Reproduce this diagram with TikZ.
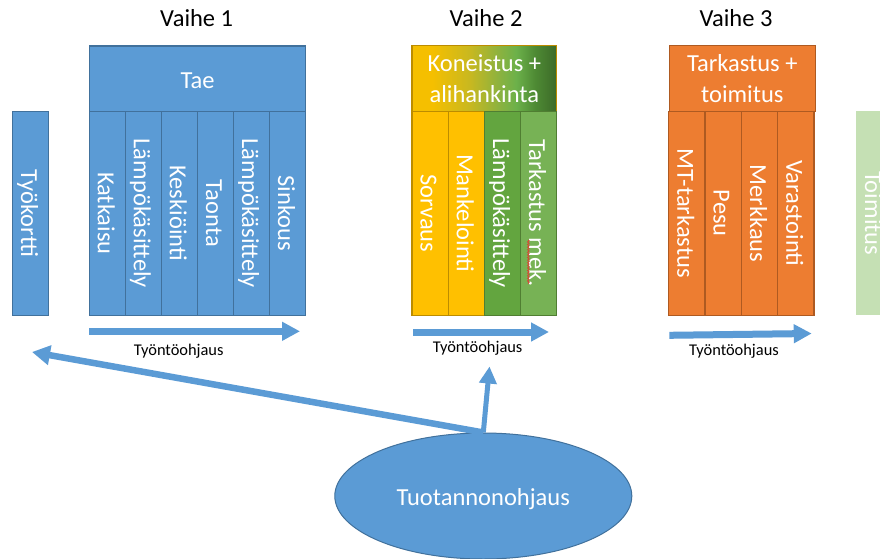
\documentclass[tikz,border=0pt]{standalone}
\usepackage{fontspec}
\setmainfont{Carlito}
\usetikzlibrary{arrows.meta,shapes.geometric,decorations.pathmorphing}

\definecolor{blueF}{HTML}{5B9BD5}
\definecolor{blueD}{HTML}{41719C}
\definecolor{goldF}{HTML}{FFC000}
\definecolor{goldD}{HTML}{BC8C00}
\definecolor{greenA}{HTML}{63A53F}
\definecolor{greenB}{HTML}{77B255}
\definecolor{greenD}{HTML}{507E32}
\definecolor{orangeF}{HTML}{ED7D31}
\definecolor{orangeD}{HTML}{AE5A21}
\definecolor{paleG}{HTML}{C5E0B4}
\definecolor{shA}{HTML}{F5BF00}
\definecolor{shB}{HTML}{C8B820}
\definecolor{shC}{HTML}{8CB23F}
\definecolor{shD}{HTML}{6CB14A}
\definecolor{shE}{HTML}{4E8A34}
\definecolor{shF}{HTML}{3C6A28}
\definecolor{squig}{HTML}{E03C31}

% gold-to-green shading of the machining header (inner 25bp..75bp span the box)
\pgfdeclarehorizontalshading{kone}{100bp}{%
  color(0bp)=(shA); color(32bp)=(shA); color(45bp)=(shB); color(55bp)=(shC);
  color(61bp)=(shD); color(67.5bp)=(shE); color(75bp)=(shF); color(100bp)=(shF)}

\newcommand\bigfont{\fontsize{24.5pt}{31pt}\selectfont}
\newcommand\smallfont{\fontsize{16.4pt}{19pt}\selectfont}

\tikzset{
  boxbase/.style={draw, line width=1.2pt, inner sep=0pt, text=white, font=\bigfont},
  stagecol/.style={boxbase, rotate=-90, minimum width=204pt, minimum height=36.2pt,
                   text height=19pt, text depth=0pt},
  hdrbox/.style={boxbase, minimum height=65.3pt},
  bluebox/.style={fill=blueF, draw=blueD},
  goldbox/.style={fill=goldF, draw=goldD},
  greenbox/.style={fill=greenA, draw=greenD},
  lgreenbox/.style={fill=greenB, draw=greenD},
  orangebox/.style={fill=orangeF, draw=orangeD},
  phase/.style={anchor=base, font=\bigfont, text=black, inner sep=0pt},
  flowlabel/.style={anchor=base, font=\smallfont, text=black, inner sep=0pt},
  flowarrow/.style={draw=blueF, line width=7pt, -{Triangle[length=18pt,width=18pt]}},
}

\begin{document}
\begin{tikzpicture}[x=1pt,y=-1pt]
\path[use as bounding box] (0,0) rectangle (880,559);
\clip (0,0) rectangle (880,559);
\fill[white] (0,0) rectangle (880,559);

% phase titles
\node[phase] (t1) at (196.7,26.7) {Vaihe 1};
\node[phase] (t2) at (486,26.7) {Vaihe 2};
\node[phase] (t3) at (736,26.7) {Vaihe 3};

% work card
\node[stagecol, bluebox, minimum height=36.4pt] (tk) at (30.5,213.3) {Työkortti};

% phase 1: forging
\node[hdrbox, bluebox, minimum width=216.4pt, text height=19pt, text depth=0pt]
  (tae) at (197.5,78.7) {Tae};
\foreach \t [count=\i] in {Katkaisu, Lämpökäsittely, Keskiöinti, Taonta, Lämpökäsittely, Sinkous}
  \node[stagecol, bluebox] (v1c\i) at ({89.3+36.07*(\i-0.5)},213.3) {\t};

% phase 2: machining and subcontracting
\node[hdrbox, draw=goldD, shading=kone, minimum width=144.7pt, align=center]
  (kone) at (484.35,78.5) {Koneistus +\\alihankinta};
\node[stagecol, goldbox] (v2c1) at (430.1,213.3) {Sorvaus};
\node[stagecol, goldbox] (v2c2) at (466.3,213.3) {Mankelointi};
\node[stagecol, greenbox] (v2c3) at (502.5,213.3) {Lämpökäsittely};
\node[stagecol, lgreenbox] (v2c4) at (538.7,213.3) {Tarkastus mek.};
\coordinate (sqA) at (528.3,240);
\coordinate (sqB) at (528.3,284);
\draw[squig, line width=0.7pt, decorate, decoration={zigzag, amplitude=0.9pt, segment length=2.6pt}] (sqA) -- (sqB);

% phase 3: inspection and delivery
\node[hdrbox, orangebox, minimum width=146pt, align=center]
  (tark) at (742.3,78.5) {Tarkastus +\\toimitus};
\foreach \t [count=\i] in {MT-tarkastus, Pesu, Merkkaus, Varastointi}
  \node[stagecol, orangebox] (v3c\i) at ({668.7+36.33*(\i-0.5)},213.3) {\t};

% delivery (next step, faded)
\node[stagecol, fill=paleG, draw=none, minimum height=37pt] (toim) at (874.5,213.3) {Toimitus};

% push control arrows
\coordinate (p1a) at (89.3,331.3);  \coordinate (p1b) at (300,331.3);
\coordinate (p2a) at (413,332);     \coordinate (p2b) at (549,332);
\coordinate (p3a) at (669.3,335.3); \coordinate (p3b) at (811.7,333.5);
\draw[flowarrow] (p1a) -- (p1b);
\draw[flowarrow] (p2a) -- (p2b);
\draw[flowarrow] (p3a) -- (p3b);
\node[flowlabel] (l1) at (178.7,355) {Työntöohjaus};
\node[flowlabel] (l2) at (477.6,352.7) {Työntöohjaus};
\node[flowlabel] (l3) at (734,355) {Työntöohjaus};

% production control
\node[ellipse, draw=blueD, line width=1pt, fill=blueF, minimum width=297pt, minimum height=126pt,
      inner sep=0pt, text=white, font=\bigfont, text height=19pt, text depth=0pt]
  (tuo) at (483.3,496) {Tuotannonohjaus};
\coordinate (cardEnd) at (32,352);
\coordinate (upEnd) at (489.5,366.5);
\draw[draw=blueF, line width=6.5pt, -{Triangle[length=18pt,width=19pt]}] (tuo.north) -- (cardEnd);
\draw[draw=blueF, line width=5pt, -{Triangle[length=17pt,width=17pt]}] (tuo.north) -- (upEnd);
\end{tikzpicture}
\end{document}
